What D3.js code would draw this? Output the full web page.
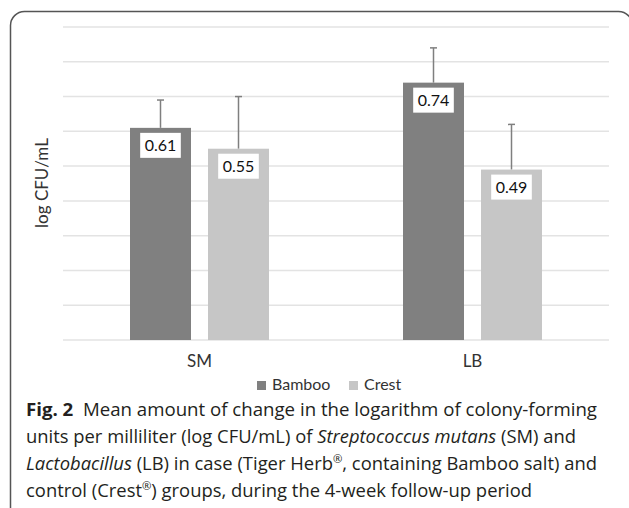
<!DOCTYPE html>
<html>
<head>
<meta charset="utf-8">
<script src="https://cdn.jsdelivr.net/npm/d3@7"></script>
<style>
  body { margin: 0; background: #fff; }
  svg { display: block; }
</style>
</head>
<body>
<svg id="chart" width="629" height="508"></svg>
<script>
// groups and series
var categories = ["SM", "LB"];
var seriesNames = ["Bamboo", "Crest"];
var bambooValues = [0.61, 0.74];
var crestValues = [0.55, 0.49];
// upper error bar length
var bambooErrors = [0.08, 0.10];
var crestErrors = [0.15, 0.13];
var gridTicks = [0, 0.1, 0.2, 0.3, 0.4, 0.5, 0.6, 0.7, 0.8, 0.9];

var colours = {"Bamboo": "#808080", "Crest": "#c6c6c6"};

// caption lines, split in styled pieces
var captionLines = [
  [["b", "Fig. 2"], ["n", "  Mean amount of change in the logarithm of colony-forming"]],
  [["n", "units per milliliter (log CFU/mL) of "], ["i", "Streptococcus mutans"], ["n", " (SM) and"]],
  [["i", "Lactobacillus"], ["n", " (LB) in case (Tiger Herb"], ["s", "®"], ["n", ", containing Bamboo salt) and"]],
  [["n", "control (Crest"], ["s", "®"], ["n", ") groups, during the 4-week follow-up period"]]
];
var captionEnds = [597, 576, 597, 532];

var svg = d3.select("#chart");

// rounded frame round the figure
svg.append("rect")
  .attr("x", 10.5).attr("y", 11.5)
  .attr("width", 622).attr("height", 560)
  .attr("rx", 14)
  .attr("fill", "none")
  .attr("stroke", "#555")
  .attr("stroke-width", 1.5);

var x0 = d3.scaleBand().domain(categories).range([63, 609]);
var x1 = d3.scaleBand().domain(seriesNames).range([0, x0.bandwidth()])
  .paddingInner(0.218).paddingOuter(0.859);
var y = d3.scaleLinear().domain([0, 0.9]).range([340, 27]);

// grid lines
svg.append("g")
  .selectAll("line")
  .data(gridTicks)
  .enter().append("line")
    .attr("x1", 63).attr("x2", 609)
    .attr("y1", function(d) { return y(d); })
    .attr("y2", function(d) { return y(d); })
    .attr("stroke", "#e3e3e3")
    .attr("stroke-width", 1.5);

// flatten the data into bars
var bars = [];
categories.forEach(function(c, i) {
  bars.push({cat: c, series: "Bamboo", value: bambooValues[i], err: bambooErrors[i]});
  bars.push({cat: c, series: "Crest", value: crestValues[i], err: crestErrors[i]});
});

function barCenter(d) {
  return x0(d.cat) + x1(d.series) + x1.bandwidth() / 2;
}

// error bars (upper only), drawn under the bars
var errG = svg.append("g").attr("stroke", "#7f7f7f").attr("stroke-width", 1.5);
bars.forEach(function(d) {
  var cx = barCenter(d);
  errG.append("line")
    .attr("x1", cx).attr("x2", cx)
    .attr("y1", y(d.value)).attr("y2", y(d.value + d.err));
  errG.append("line")
    .attr("x1", cx - 3.5).attr("x2", cx + 3.5)
    .attr("y1", y(d.value + d.err)).attr("y2", y(d.value + d.err));
});

svg.append("g")
  .selectAll("rect")
  .data(bars)
  .enter().append("rect")
    .attr("x", function(d) { return x0(d.cat) + x1(d.series); })
    .attr("y", function(d) { return y(d.value); })
    .attr("width", x1.bandwidth())
    .attr("height", function(d) { return y(0) - y(d.value); })
    .attr("fill", function(d) { return colours[d.series]; });

// value labels in white boxes
var labG = svg.append("g");
bars.forEach(function(d) {
  var cx = barCenter(d);
  var top = y(d.value) + 5;
  var box = labG.append("rect").attr("fill", "#fff");
  var t = labG.append("text")
    .attr("x", cx).attr("y", top + 18)
    .attr("text-anchor", "middle")
    .style("font-family", "Lato, sans-serif")
    .style("font-size", "16px")
    .style("fill", "#111")
    .text(d.value.toFixed(2));
  var w = t.node().getComputedTextLength() + 9;
  box.attr("x", cx - w / 2).attr("y", top).attr("width", w).attr("height", 25);
});

// category labels
svg.append("g")
  .selectAll("text")
  .data(categories)
  .enter().append("text")
    .attr("x", function(d) { return x0(d) + x0.bandwidth() / 2; })
    .attr("y", 367)
    .attr("text-anchor", "middle")
    .style("font-family", "Lato, sans-serif")
    .style("font-size", "17px")
    .style("fill", "#333")
    .text(function(d) { return d; });

// y axis title
svg.append("text")
  .attr("transform", "translate(48,183) rotate(-90)")
  .attr("text-anchor", "middle")
  .style("font-family", "Lato, sans-serif")
  .style("font-size", "17px")
  .style("fill", "#333")
  .text("log CFU/mL");

// legend
var legendX = [257, 349];
seriesNames.forEach(function(s, i) {
  svg.append("rect")
    .attr("x", legendX[i]).attr("y", 381)
    .attr("width", 9).attr("height", 9)
    .attr("fill", colours[s]);
  svg.append("text")
    .attr("x", legendX[i] + 15).attr("y", 390)
    .style("font-family", "Lato, sans-serif")
    .style("font-size", "16px")
    .style("fill", "#333")
    .text(s);
});

// caption
captionLines.forEach(function(line, i) {
  var t = svg.append("text")
    .attr("x", 26).attr("y", 416 + i * 27)
    .attr("textLength", captionEnds[i] - 26)
    .attr("lengthAdjust", "spacingAndGlyphs")
    .style("font-family", "'Open Sans', sans-serif")
    .style("font-size", "18px")
    .style("fill", "#231f20")
    .style("white-space", "pre");
  line.forEach(function(p) {
    var sp = t.append("tspan").text(p[1]);
    if (p[0] == "b") sp.style("font-weight", "bold");
    if (p[0] == "i") sp.style("font-style", "italic");
    if (p[0] == "s") sp.style("font-size", "11px").attr("baseline-shift", "7");
  });
});
</script>
</body>
</html>
